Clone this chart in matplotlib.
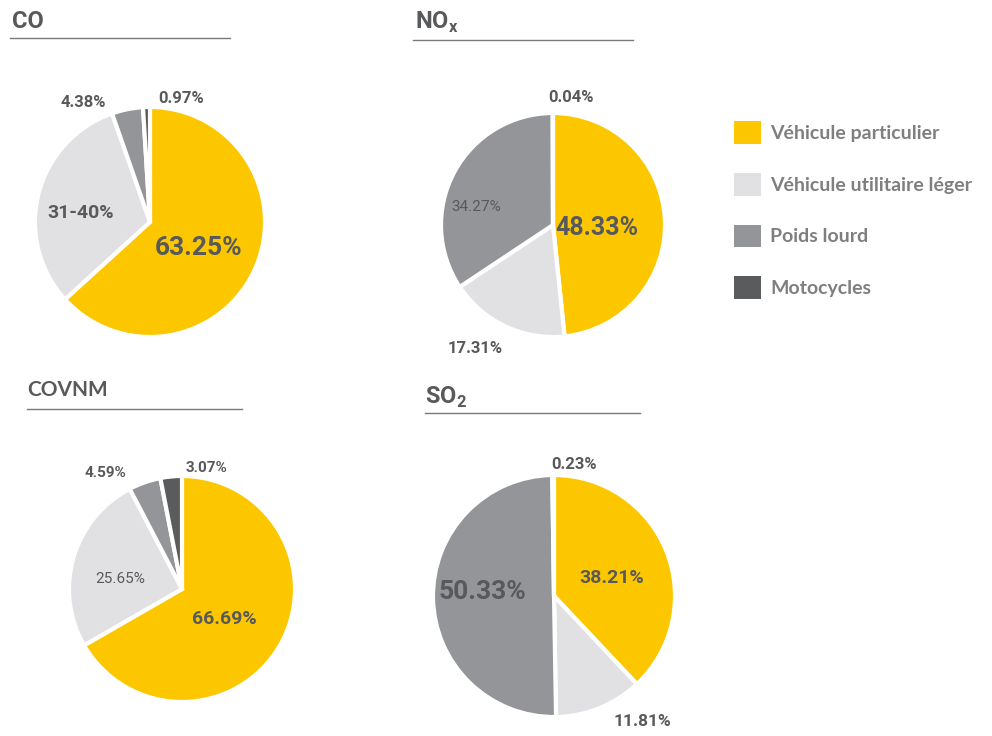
import numpy as np
import matplotlib
matplotlib.use("Agg")
import matplotlib.pyplot as plt
from matplotlib.patches import Patch

categories = ["Véhicule particulier", "Véhicule utilitaire léger", "Poids lourd", "Motocycles"]
colors = ["#FDC700", "#E1E1E3", "#939598", "#5A5B5D"]

co_values = [63.25, 31.40, 4.38, 0.97]
co_labels = ["63.25%", "31-40%", "4.38%", "0.97%"]
nox_values = [48.33, 17.31, 34.27, 0.04]
nox_labels = ["48.33%", "17.31%", "34.27%", "0.04%"]
covnm_values = [66.69, 25.65, 4.59, 3.07]
covnm_labels = ["66.69%", "25.65%", "4.59%", "3.07%"]
so2_values = [38.21, 11.81, 50.33, 0.23]
so2_labels = ["38.21%", "11.81%", "50.33%", "0.23%"]

TXT = "#58595B"
NARROW = ["Roboto", "DejaVu Sans"]

H = 736
fig = plt.figure(figsize=(9.92, 7.36), dpi=100)
ax = fig.add_axes([0, 0, 1, 1])

# layout: title, title pos, underline, pie center, radius, label style (r, dtheta, size, weight)
charts = [
    dict(title="CO", tpos=(12, 22), line=(10, 230, 38), center=(150, 222), radius=115,
         values=co_values, labels=co_labels,
         style=[(0.48, -4, 19, "bold"), (0.61, 7, 14, "bold"),
                (1.19, 18, 12, "bold"), (1.11, -16, 12, "bold")]),
    dict(title=r"NO$_\mathregular{x}$", tpos=(415, 22), line=(413, 633, 40), center=(553, 225), radius=112,
         values=nox_values, labels=nox_labels,
         style=[(0.39, -7, 18, "bold"), (1.3, -7, 12, "bold"),
                (0.7, 15, 11, "normal"), (1.15, -8, 12, "bold")]),
    dict(title="COVNM", tpos=(27, 390), line=(27, 242, 409), center=(182, 589), radius=113,
         values=covnm_values, labels=covnm_labels,
         style=[(0.46, -5, 14, "bold"), (0.555, 7, 11, "normal"),
                (1.23, 14, 11, "bold"), (1.09, -17, 11, "bold")]),
    dict(title=r"SO$_\mathregular{2}$", tpos=(425, 397), line=(425, 640, 413), center=(554, 596), radius=121,
         values=so2_values, labels=so2_labels,
         style=[(0.5, -4, 14, "bold"), (1.27, 13, 12.5, "bold"),
                (0.59, -4, 19, "bold"), (1.1, -9, 12, "bold")]),
]

for c in charts:
    cx, cy = c["center"][0], H - c["center"][1]
    R = c["radius"]
    wedges, _ = ax.pie(c["values"], colors=colors, startangle=90, counterclock=False,
                       center=(cx, cy), radius=R,
                       wedgeprops=dict(edgecolor="white", linewidth=3))
    for w, lab, (r, dt, size, weight) in zip(wedges, c["labels"], c["style"]):
        ang = np.deg2rad((w.theta1 + w.theta2) / 2 + dt)
        ax.text(cx + r * R * np.cos(ang), cy + r * R * np.sin(ang), lab,
                ha="center", va="center", fontsize=size, fontweight=weight,
                color=TXT, family=NARROW)
    # title and underline
    if c["title"] == "COVNM":
        ax.text(c["tpos"][0], H - c["tpos"][1], c["title"], ha="left", va="center",
                fontsize=15, fontweight="bold", color=TXT, family=["Lato", "DejaVu Sans"])
    else:
        ax.text(c["tpos"][0], H - c["tpos"][1], c["title"], ha="left", va="center",
                fontsize=17, fontweight="bold", color=TXT, family=NARROW)
    x0, x1, ly = c["line"]
    ax.plot([x0, x1], [H - ly, H - ly], color="#7A7A7A", lw=1)

ax.set_xlim(0, 992)
ax.set_ylim(0, H)
ax.set_aspect("equal")
ax.axis("off")

handles = [Patch(facecolor=col, edgecolor="none") for col in colors]
leg = fig.legend(handles, categories, loc="upper left", bbox_to_anchor=(716 / 992, 1 - 104 / H),
                 frameon=False, handlelength=1.4, handleheight=1.4, handletextpad=0.5,
                 labelspacing=1.5,
                 prop=dict(family=["Lato", "DejaVu Sans"], weight="bold", size=14))
for t in leg.get_texts():
    t.set_color("#7F7F7F")

fig.savefig("out.png", dpi=100, facecolor="white")
